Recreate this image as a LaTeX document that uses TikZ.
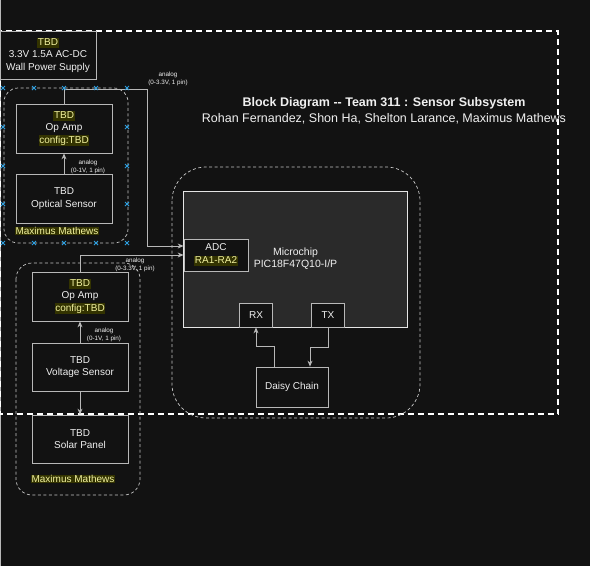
\documentclass[tikz,border=0pt]{standalone}
\usepackage{fontspec}
\setmainfont{Liberation Sans}
\usepackage{tikz}
\usetikzlibrary{arrows.meta}
\definecolor{bgc}{HTML}{121212}
\definecolor{boxc}{HTML}{121212}
\definecolor{chipc}{HTML}{2A2A2A}
\definecolor{linec}{HTML}{B8B8B8}
\definecolor{txtc}{HTML}{F0F0F0}
\definecolor{hlbg}{HTML}{333300}
\definecolor{hltx}{HTML}{F2F2A0}
\definecolor{selc}{HTML}{2D9FE0}
\newcommand{\hl}[1]{{\setlength{\fboxsep}{0.7pt}\colorbox{hlbg}{\color{hltx}\vphantom{Ag}#1}}}

\begin{document}
\begin{tikzpicture}
	 [x=1pt,y=-1pt,
	  blk/.style={draw=linec,fill=boxc,line width=0.8pt,inner sep=0pt,align=center,text=txtc,
	    font=\fontsize{10}{12.5}\selectfont},
	  grp/.style={draw=linec!80,dashed,dash pattern=on 3pt off 2.5pt,line width=0.7pt,rounded corners=#1},
	  lnk/.style={draw=linec,line width=0.8pt},
	  arr/.style={lnk,-{Stealth[length=6pt,width=5pt]}},
	  lbl/.style={text=txtc,align=center,inner sep=0pt,font=\fontsize{6.3}{8}\selectfont}]

  \fill[bgc] (0,0) rectangle (590,566);
  \useasboundingbox (0,0) rectangle (590,566);
  \draw[linec,line width=0.8pt] (0.5,0) -- (0.5,566);

  \draw[white,line width=1.3pt,dash pattern=on 6pt off 4pt] (0.5,31) rectangle (558,414);

  \draw[grp=14pt] (4,88) rectangle (128,243);
  \draw[grp=16pt] (16,263) rectangle (140,495);
  \draw[grp=34pt] (172,167) rectangle (420,418);

    \node[blk,minimum width=96pt,minimum height=48pt] (psu) at (48,55) {\hl{TBD}\\3.3V 1.5A AC-DC\\Wall Power Supply};

    \node[blk,minimum width=96pt,minimum height=49pt] (opa1) at (64,128.5) {\hl{TBD}\\Op Amp\\\hl{config:TBD}};
    \node[blk,minimum width=96pt,minimum height=49pt] (opt) at (64,198.5) {TBD\\Optical Sensor};
    \node[lbl,text=hltx,fill=hlbg,inner sep=0.7pt,font=\fontsize{10}{12.5}\selectfont] (mm1) at (57,231) {Maximus Mathews};

    \node[blk,minimum width=96pt,minimum height=49pt] (opa2) at (80,296.5) {\hl{TBD}\\Op Amp\\\hl{config:TBD}};
    \node[blk,minimum width=96pt,minimum height=48pt] (volt) at (80,367) {TBD\\Voltage Sensor};
    \node[blk,minimum width=96pt,minimum height=48pt] (solar) at (80,439) {TBD\\Solar Panel};
    \node[lbl,text=hltx,fill=hlbg,inner sep=0.7pt,font=\fontsize{10}{12.5}\selectfont] (mm2) at (73,479) {Maximus Mathews};

    \node[blk,draw=white!90!black,fill=chipc,minimum width=224pt,minimum height=136pt] (mcu) at (295,259) {};
    \node[text=txtc,align=center,font=\fontsize{10.5}{12}\selectfont] (mcut) at (295.5,258.5) {Microchip\\PIC18F47Q10-I/P};
    \node[blk,minimum width=64pt,minimum height=32pt] (adc) at (216,255) {ADC\\\hl{RA1-RA2}};
    \node[blk,minimum width=33pt,minimum height=24pt] (rx) at (256,315) {RX};
    \node[blk,minimum width=33pt,minimum height=24pt] (tx) at (328,315) {TX};
    \node[blk,minimum width=72pt,minimum height=40pt] (daisy) at (292,387) {Daisy Chain};

    \node[text=txtc,align=center,inner sep=0pt,font=\fontsize{12.5}{16}\selectfont] (title) at (384,111)
      {\textbf{Block Diagram -{}- Team 311 : Sensor Subsystem}\\Rohan Fernandez, Shon Ha, Shelton Larance, Maximus Mathews};

    \coordinate (k1) at (147,89);
    \foreach \from/\to in {opt/opa1,volt/opa2}
    \draw[arr] (\from.north) -- (\to.south);
    \draw[arr] (volt.south) -- (solar.north);
    \draw[arr] (opa1.north) |- (k1) |- ([yshift=9pt]adc.west);
    \draw[arr] (opa2.north) |- (adc.west);
    \draw[arr] ([xshift=-18pt]daisy.north) -- ++(0,-20) -| (rx.south);
    \draw[arr] (tx.south) -- ++(0,20) -| ([xshift=18pt]daisy.north);

    \node[lbl] (l1) at (168,79) {analog\\(0-3.3V, 1 pin)};
    \node[lbl] (l2) at (88,167) {analog\\(0-1V, 1 pin)};
    \node[lbl] (l3) at (135,265) {analog\\(0-3.3V, 1 pin)};
    \node[lbl] (l4) at (104,335) {analog\\(0-1V, 1 pin)};

    \foreach \x in {3,34,64,96,127}
      \foreach \y in {88,243}
        \draw[selc,line width=1pt] (\x-2,\y-2) -- (\x+2,\y+2) (\x-2,\y+2) -- (\x+2,\y-2);
    \foreach \x in {3,127}
      \foreach \y in {127,166,204}
        \draw[selc,line width=1pt] (\x-2,\y-2) -- (\x+2,\y+2) (\x-2,\y+2) -- (\x+2,\y-2);

\end{tikzpicture}
\end{document}
